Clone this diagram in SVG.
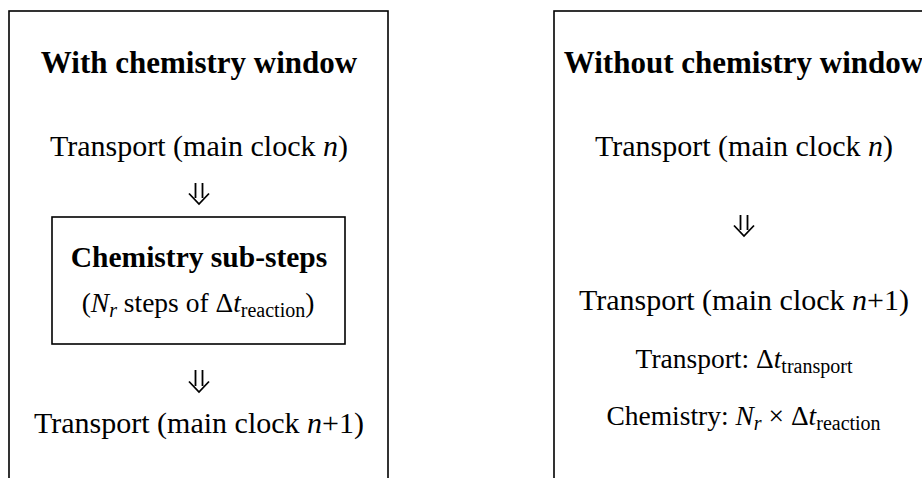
<svg xmlns="http://www.w3.org/2000/svg" width="922" height="478" viewBox="0 0 922 478">
<style>
text{font-family:"Liberation Serif","Times New Roman",serif;fill:#000;text-anchor:middle}
.title{font-weight:bold;font-size:31px}
.subtitle{font-weight:bold;font-size:29.5px}
.main{font-size:30px}
.small{font-size:27.5px}
.sub{font-size:20px}
.it{font-style:italic}
.box{fill:#fff;stroke:#000;stroke-width:1.6}
.arr{fill:none;stroke:#000;stroke-width:1.8;stroke-linejoin:miter}
</style>
<g id="panel-with">
<rect class="box" x="9" y="11" width="379" height="480"/>
<text class="title" x="199" y="73">With chemistry window</text>
</g>
<g id="node-transport-n-left">
<text class="main" x="199" y="156">Transport (main clock <tspan class="it">n</tspan>)</text>
</g>
<g id="node-chem-substeps">
<rect class="box" x="52" y="217" width="293" height="127"/>
<text class="subtitle" x="199" y="267">Chemistry sub-steps</text>
<text class="small" x="198" y="312">(<tspan class="it">N</tspan><tspan class="it sub" dy="5">r</tspan><tspan dy="-5"> steps of Δ</tspan><tspan class="it">t</tspan><tspan class="sub" dy="5">reaction</tspan><tspan dy="-5">)</tspan></text>
</g>
<g id="node-transport-n1-left">
<text class="main" x="199" y="433">Transport (main clock <tspan class="it">n</tspan>+1)</text>
</g>
<g id="panel-without">
<rect class="box" x="554" y="11" width="379" height="480"/>
<text class="title" x="743.5" y="73">Without chemistry window</text>
</g>
<g id="node-transport-n-right">
<text class="main" x="744" y="156">Transport (main clock <tspan class="it">n</tspan>)</text>
</g>
<g id="node-transport-n1-right">
<text class="main" x="744" y="310">Transport (main clock <tspan class="it">n</tspan>+1)</text>
</g>
<g id="node-transport-dt">
<text class="small" x="744" y="368">Transport: Δ<tspan class="it">t</tspan><tspan class="sub" dy="5">transport</tspan></text>
</g>
<g id="node-chem-dt">
<text class="small" x="743.5" y="425">Chemistry: <tspan class="it">N</tspan><tspan class="it sub" dy="5">r</tspan><tspan dy="-5"> × Δ</tspan><tspan class="it">t</tspan><tspan class="sub" dy="5">reaction</tspan></text>
</g>
<g id="connectors">
<path class="arr" d="M195.5 183V198M202.5 183V198M189 193.5L199 204L209 193.5"/>
<path class="arr" d="M195.5 370V386M202.5 370V386M189 381.5L199 392L209 381.5"/>
<path class="arr" d="M740.5 215V230M747.5 215V230M734 225.5L744 236L754 225.5"/>
</g>
</svg>
